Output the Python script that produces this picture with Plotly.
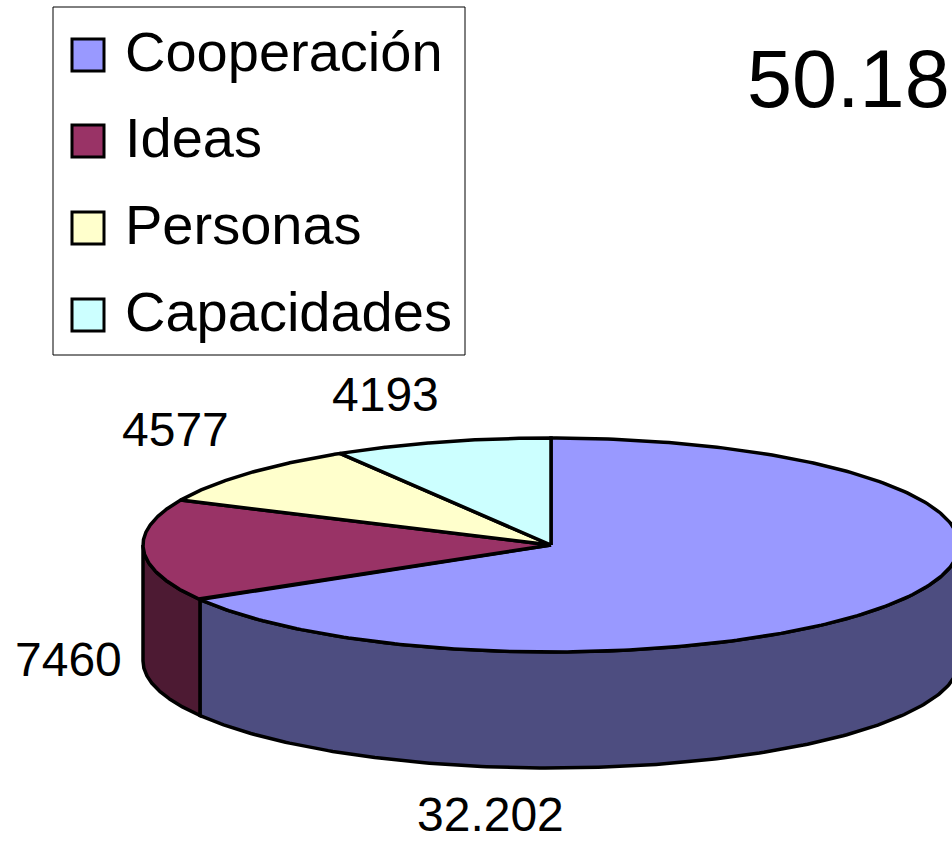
import numpy as np
import plotly.graph_objects as go

categories = ["Cooperación", "Ideas", "Personas", "Capacidades"]
values = [32202, 7460, 4577, 4193]
value_labels = ["32.202", "7460", "4577", "4193"]
top_colors = ["#9999FF", "#993366", "#FFFFCC", "#CCFFFF"]
side_colors = ["#4D4D80", "#4D1A33", "#80806A", "#6A8080"]
title_text = "50.18"

W, H = 952, 841
cx, cy, rx, ry, depth = 551, 545, 408, 107, 116
FONT = "Liberation Sans, Arial, sans-serif"


def pt(theta_deg, dy=0.0):
    t = np.radians(theta_deg)
    return cx + rx * np.sin(t), cy - ry * np.cos(t) + dy


fig = go.Figure()

total = sum(values)
bounds = [0.0]
for v in values:
    bounds.append(bounds[-1] + 360.0 * v / total)

# side walls (front half: 90..270 deg clockwise from top)
for i, v in enumerate(values):
    a, b = max(bounds[i], 90.0), min(bounds[i + 1], 270.0)
    if b <= a:
        continue
    th = np.linspace(a, b, 200)
    xs_top, ys_top = pt(th)
    xs_bot, ys_bot = pt(th[::-1], depth)
    xs = np.concatenate([xs_top, xs_bot, xs_top[:1]])
    ys = np.concatenate([ys_top, ys_bot, ys_top[:1]])
    fig.add_trace(go.Scatter(x=xs, y=ys, mode="lines", fill="toself",
                             fillcolor=side_colors[i],
                             line=dict(color="black", width=3.5),
                             hoverinfo="skip", showlegend=False))

# top wedges
for i, v in enumerate(values):
    th = np.linspace(bounds[i], bounds[i + 1], 300)
    xa, ya = pt(th)
    xs = np.concatenate([[cx], xa, [cx]])
    ys = np.concatenate([[cy], ya, [cy]])
    fig.add_trace(go.Scatter(x=xs, y=ys, mode="lines", fill="toself",
                             fillcolor=top_colors[i],
                             line=dict(color="black", width=3.5),
                             name=categories[i], hoverinfo="skip",
                             showlegend=False))

annotations = []
# data labels
label_pos = [(490, 814), (68, 659), (175, 429), (385, 394)]
for (lx, ly), txt in zip(label_pos, value_labels):
    annotations.append(dict(x=lx, y=ly, xref="x", yref="y", text=txt,
                            showarrow=False, xanchor="center", yanchor="middle",
                            font=dict(family=FONT, size=48, color="black")))

# title
annotations.append(dict(x=745, y=79, xref="x", yref="y", text=title_text,
                        showarrow=False, xanchor="left", yanchor="middle",
                        font=dict(family=FONT, size=81, color="black")))

# legend (manual)
shapes = [dict(type="rect", x0=53, y0=7, x1=465, y1=355, xref="x", yref="y",
               line=dict(color="black", width=1), fillcolor="white", layer="below")]
row_y = [55, 141, 228, 315]
for i, cat in enumerate(categories):
    yc = row_y[i]
    shapes.append(dict(type="rect", x0=72, x1=104, y0=yc - 16, y1=yc + 16,
                       xref="x", yref="y", fillcolor=top_colors[i],
                       line=dict(color="black", width=3), layer="above"))
    annotations.append(dict(x=123, y=yc - 4, xref="x", yref="y", text=cat,
                            showarrow=False, xanchor="left", yanchor="middle",
                            font=dict(family=FONT, size=56, color="black")))

fig.update_layout(
    width=W, height=H, margin=dict(l=0, r=0, t=0, b=0),
    paper_bgcolor="white", plot_bgcolor="white",
    xaxis=dict(range=[0, W], visible=False, fixedrange=True),
    yaxis=dict(range=[H, 0], visible=False, fixedrange=True),
    shapes=shapes, annotations=annotations, showlegend=False,
)

fig.write_html("out.html",
               config={"displayModeBar": False},
               post_script="document.body.style.margin='0';document.body.style.overflow='hidden';")
